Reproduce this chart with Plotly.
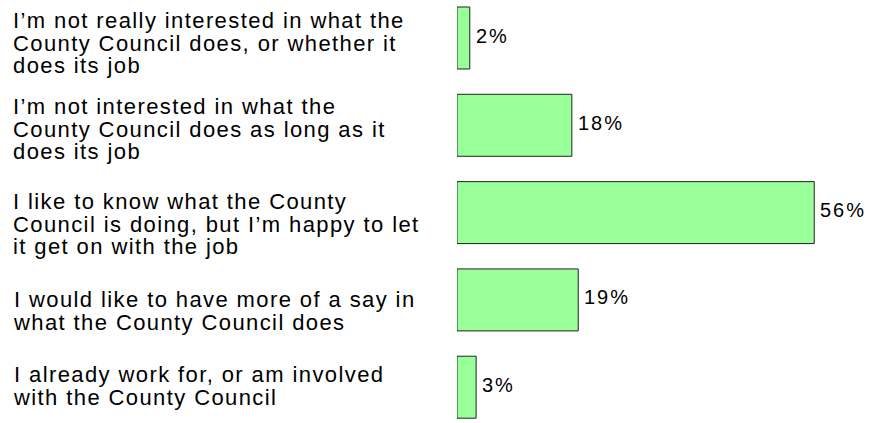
import plotly.graph_objects as go

# Survey responses (share of respondents, %)
categories = [
    "I’m not really interested in what the<br>County Council does, or whether it<br>does its job",
    "I’m not interested in what the<br>County Council does as long as it<br>does its job",
    "I like to know what the County<br>Council is doing, but I’m happy to let<br>it get on with the job",
    "I would like to have more of a say in<br>what the County Council does",
    "I already work for, or am involved<br>with the County Council",
]
percentages = [2, 18, 56, 19, 3]

# Layout constants
W, H = 869, 423
LEFT = 457
PX_PER_UNIT_X = 6.38
TOP_CENTER, PITCH = 38.0, 87.3
LABEL_X = 11
LINE_PITCH = 22.5
LABEL_SIZE = 22
LABEL_NUDGE = [5, 3.8, 11.3, 10.7, -1.2]  # px, downward
FONT_FAMILY = "Liberation Sans, Arial, sans-serif"
VALUE_SIZE = 20

positions = list(range(len(categories)))

fig = go.Figure(
    go.Bar(
        x=percentages,
        y=positions,
        orientation="h",
        width=0.71,
        marker=dict(color="#99FF99", line=dict(color="#222222", width=1)),
        hoverinfo="skip",
    )
)

# Value labels just past the end of each bar
for pos, val in zip(positions, percentages):
    fig.add_annotation(
        x=val,
        y=pos,
        xref="x",
        yref="y",
        xanchor="left",
        yanchor="middle",
        xshift=4,
        yshift=2.5,
        text=f'<span style="letter-spacing:2px">{val}%</span>',
        showarrow=False,
        font=dict(family=FONT_FAMILY, size=VALUE_SIZE, color="#000000"),
    )

# Left-aligned multi-line category labels; the base font size sets the
# line pitch (1.3 em), the inner spans set the glyph size.
line_style = f"font-size:{LABEL_SIZE}px;letter-spacing:1.4px"
for i, label in enumerate(categories):
    lines = label.split("<br>")
    text = "<br>".join(f'<span style="{line_style}">{ln}</span>' for ln in lines)
    fig.add_annotation(
        x=(LABEL_X - LEFT) / (W - LEFT),
        xref="paper",
        y=positions[i],
        yref="y",
        xanchor="left",
        yanchor="middle",
        text=text,
        showarrow=False,
        align="left",
        font=dict(family=FONT_FAMILY, size=LINE_PITCH / 1.3, color="#000000"),
        yshift=-LABEL_NUDGE[i],
    )

x_max = (W - LEFT) / PX_PER_UNIT_X
y_top = -TOP_CENTER / PITCH
y_bottom = (len(categories) - 1) + (H - (TOP_CENTER + (len(categories) - 1) * PITCH)) / PITCH

fig.update_layout(
    width=W,
    height=H,
    margin=dict(l=LEFT, r=0, t=0, b=0),
    paper_bgcolor="white",
    plot_bgcolor="white",
    showlegend=False,
    xaxis=dict(visible=False, range=[0, x_max], fixedrange=True),
    yaxis=dict(visible=False, range=[y_bottom, y_top], fixedrange=True),
)

fig.write_html("out.html")
